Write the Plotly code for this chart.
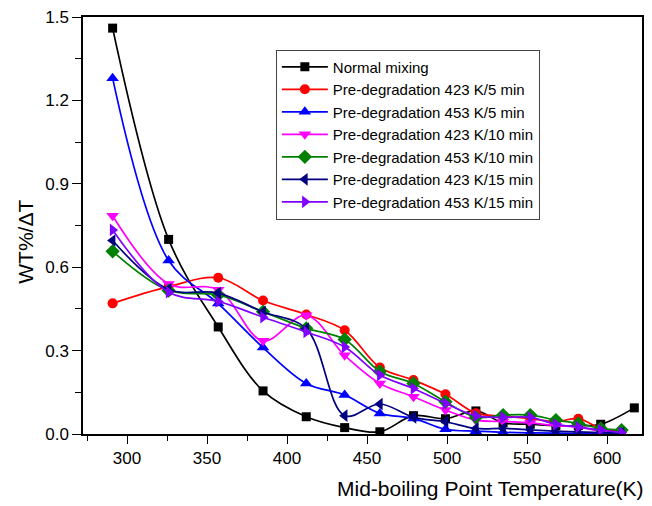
import plotly.graph_objects as go

# Mid-boiling point temperatures (K) of the distillation cuts
temps = [291, 326, 357, 385, 412, 436, 458, 479, 499, 518, 535, 552, 568, 582, 596, 609]
temps_normal = [291, 326, 357, 385, 412, 436, 458, 479, 499, 518, 535, 552, 568, 582, 596, 617]

# WT%/ΔT for each pre-treatment condition
normal_mixing = [1.46, 0.70, 0.385, 0.155, 0.062, 0.023, 0.008, 0.066, 0.055, 0.083, 0.04, 0.035, 0.03, 0.03, 0.035, 0.094]
pd_423_5 = [0.47, 0.53, 0.562, 0.48, 0.43, 0.373, 0.239, 0.194, 0.143, 0.075, 0.065, 0.055, 0.045, 0.055, 0.02, 0.01]
pd_453_5 = [1.28, 0.624, 0.469, 0.311, 0.182, 0.14, 0.074, 0.056, 0.017, 0.01, 0.006, 0.004, 0.003, 0.002, 0.001, 0.0]
pd_423_10 = [0.785, 0.54, 0.519, 0.335, 0.427, 0.283, 0.182, 0.134, 0.086, 0.05, 0.045, 0.04, 0.03, 0.025, 0.01, 0.005]
pd_453_10 = [0.657, 0.516, 0.50, 0.44, 0.38, 0.34, 0.225, 0.182, 0.116, 0.06, 0.068, 0.068, 0.05, 0.038, 0.02, 0.014]
pd_423_15 = [0.696, 0.52, 0.507, 0.439, 0.379, 0.066, 0.108, 0.06, 0.044, 0.02, 0.02, 0.015, 0.01, 0.008, 0.005, 0.003]
pd_453_15 = [0.734, 0.51, 0.477, 0.42, 0.367, 0.313, 0.212, 0.164, 0.11, 0.065, 0.06, 0.06, 0.035, 0.025, 0.014, 0.005]

series = [
    ("Normal mixing", temps_normal, normal_mixing, "#000000", "square", 9),
    ("Pre-degradation 423 K/5 min", temps, pd_423_5, "#FF0000", "circle", 10),
    ("Pre-degradation 453 K/5 min", temps, pd_453_5, "#0000FF", "triangle-up", 11),
    ("Pre-degradation 423 K/10 min", temps, pd_423_10, "#FF00FF", "triangle-down", 11),
    ("Pre-degradation 453 K/10 min", temps, pd_453_10, "#008000", "diamond", 11),
    ("Pre-degradation 423 K/15 min", temps, pd_423_15, "#000080", "triangle-left", 11),
    ("Pre-degradation 453 K/15 min", temps, pd_453_15, "#8000FF", "triangle-right", 11),
]

fig = go.Figure()
for name, xs, ys, color, symbol, size in series:
    fig.add_trace(go.Scatter(
        x=xs, y=ys, name=name, mode="lines+markers",
        line=dict(color=color, width=1.7, shape="spline", smoothing=1.0),
        marker=dict(symbol=symbol, size=size, color=color),
    ))

axis_font = dict(family="Liberation Sans, Arial, sans-serif", size=17, color="#000000")

fig.update_xaxes(
    range=[272.5, 621.8], tick0=300, dtick=50,
    showgrid=False, zeroline=False,
    showline=True, linecolor="#000000", linewidth=1.5, mirror=True,
    ticks="outside", ticklen=8, tickwidth=1.2, tickcolor="#000000",
    minor=dict(dtick=25, ticks="outside", ticklen=5, tickwidth=1.2, tickcolor="#000000"),
    tickfont=axis_font,
)
fig.update_yaxes(
    range=[0, 1.5], tick0=0, dtick=0.3, tickformat=".1f",
    showgrid=False, zeroline=False,
    showline=True, linecolor="#000000", linewidth=1.5, mirror=True,
    ticks="outside", ticklen=9, tickwidth=1.2, tickcolor="#000000",
    minor=dict(dtick=0.15, ticks="outside", ticklen=6, tickwidth=1.2, tickcolor="#000000"),
    tickfont=axis_font,
)

title_font = dict(family="Liberation Sans, Arial, sans-serif", size=21, color="#000000")
fig.add_annotation(
    text="Mid-boiling Point Temperature(K)", xref="paper", yref="paper",
    x=1.0066, y=-0.1315, xanchor="right", yanchor="middle",
    showarrow=False, font=title_font,
)
fig.add_annotation(
    text="WT%/ΔT", xref="paper", yref="paper",
    x=-0.1027, y=0.46, xanchor="center", yanchor="middle",
    textangle=-90, showarrow=False, font=title_font,
)

fig.update_layout(
    width=652, height=506,
    margin=dict(l=83, r=8, t=16, b=72),
    paper_bgcolor="#FFFFFF", plot_bgcolor="#FFFFFF",
    showlegend=True,
    legend=dict(
        x=0.345, y=0.922, xanchor="left", yanchor="top",
        bgcolor="#FFFFFF", bordercolor="#444444", borderwidth=1,
        font=dict(family="Liberation Sans, Arial, sans-serif", size=15, color="#000000"),
        itemwidth=46, tracegroupgap=0,
    ),
)

fig.write_html("out.html")
